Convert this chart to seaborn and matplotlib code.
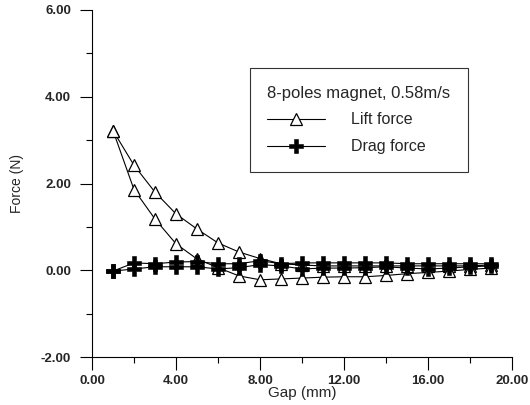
import numpy as np
import pandas as pd
import seaborn as sns
import matplotlib.pyplot as plt
from matplotlib.ticker import MultipleLocator, FormatStrFormatter

# Data
gap = list(range(1, 20))
lift_up = [3.22, 2.42, 1.80, 1.30, 0.95, 0.63, 0.42, 0.27, 0.15, 0.12,
           0.10, 0.10, 0.10, 0.10, 0.10, 0.10, 0.10, 0.10, 0.12]
lift_down = [3.22, 1.86, 1.18, 0.61, 0.26, 0.06, -0.13, -0.22, -0.20, -0.18,
             -0.16, -0.15, -0.15, -0.12, -0.08, -0.05, -0.02, 0.02, 0.05]
drag_up = [-0.02, 0.17, 0.15, 0.19, 0.20, 0.15, 0.15, 0.22, 0.15, 0.17,
           0.17, 0.17, 0.17, 0.17, 0.15, 0.15, 0.15, 0.15, 0.15]
drag_down = [-0.02, 0.03, 0.08, 0.08, 0.08, 0.03, 0.06, 0.13, 0.10, 0.03,
             0.05, 0.05, 0.06, 0.08, 0.05, 0.03, 0.05, 0.08, 0.10]

legend_title = '8-poles magnet, 0.58m/s'
labels = ['Lift force', 'Drag force']

sns.set_style('ticks')
plt.rcParams['font.family'] = ['Liberation Sans', 'DejaVu Sans']

fig = plt.figure(figsize=(5.3, 4.05), dpi=100)
ax = fig.add_axes([92 / 530, 1 - 357 / 405, 420 / 530, 347 / 405])

df = pd.DataFrame({'gap': gap, 'lift_up': lift_up, 'lift_down': lift_down,
                   'drag_up': drag_up, 'drag_down': drag_down})

# Lift force curves (open triangles)
for col in ['lift_up', 'lift_down']:
    sns.lineplot(data=df, x='gap', y=col, ax=ax, color='black', lw=0.8,
                 marker='^', markersize=8, markerfacecolor='white',
                 markeredgecolor='black', markeredgewidth=0.9,
                 estimator=None, sort=False)

# Drag force curves (filled plus)
for col in ['drag_up', 'drag_down']:
    sns.lineplot(data=df, x='gap', y=col, ax=ax, color='black', lw=0.8,
                 marker='P', markersize=10, markerfacecolor='black',
                 markeredgecolor='black', markeredgewidth=0.4,
                 estimator=None, sort=False)

ax.set_xlim(0, 20)
ax.set_ylim(-2, 6)
ax.xaxis.set_major_locator(MultipleLocator(4))
ax.xaxis.set_minor_locator(MultipleLocator(2))
ax.yaxis.set_major_locator(MultipleLocator(2))
ax.yaxis.set_minor_locator(MultipleLocator(1))
ax.xaxis.set_major_formatter(FormatStrFormatter('%.2f'))
ax.yaxis.set_major_formatter(FormatStrFormatter('%.2f'))

ax.tick_params(axis='both', which='major', length=9, width=0.8, color='black',
               labelsize=9.5, pad=6)
ax.tick_params(axis='x', which='major', pad=4)
ax.tick_params(axis='both', which='minor', length=4, width=0.8, color='black')
for lbl in ax.get_xticklabels() + ax.get_yticklabels():
    lbl.set_fontweight('bold')

sns.despine(ax=ax)
for side in ['left', 'bottom']:
    ax.spines[side].set_color('black')
    ax.spines[side].set_linewidth(0.8)

ax.set_xlabel('Gap (mm)', fontsize=11, labelpad=-1)
ax.set_ylabel('Force (N)', fontsize=10, labelpad=12)

handles = [ax.lines[0], ax.lines[2]]
leg = ax.legend(handles, labels, title=legend_title,
                loc='upper left', bbox_to_anchor=(0.376, 0.833),
                fontsize=11.5, title_fontsize=12, frameon=True,
                fancybox=False, edgecolor='black', handlelength=3.6,
                handletextpad=1.6, borderpad=1.1, labelspacing=0.75,
                alignment='left', borderaxespad=0)
leg.get_frame().set_linewidth(0.8)

fig.savefig('out.png', dpi=100)
